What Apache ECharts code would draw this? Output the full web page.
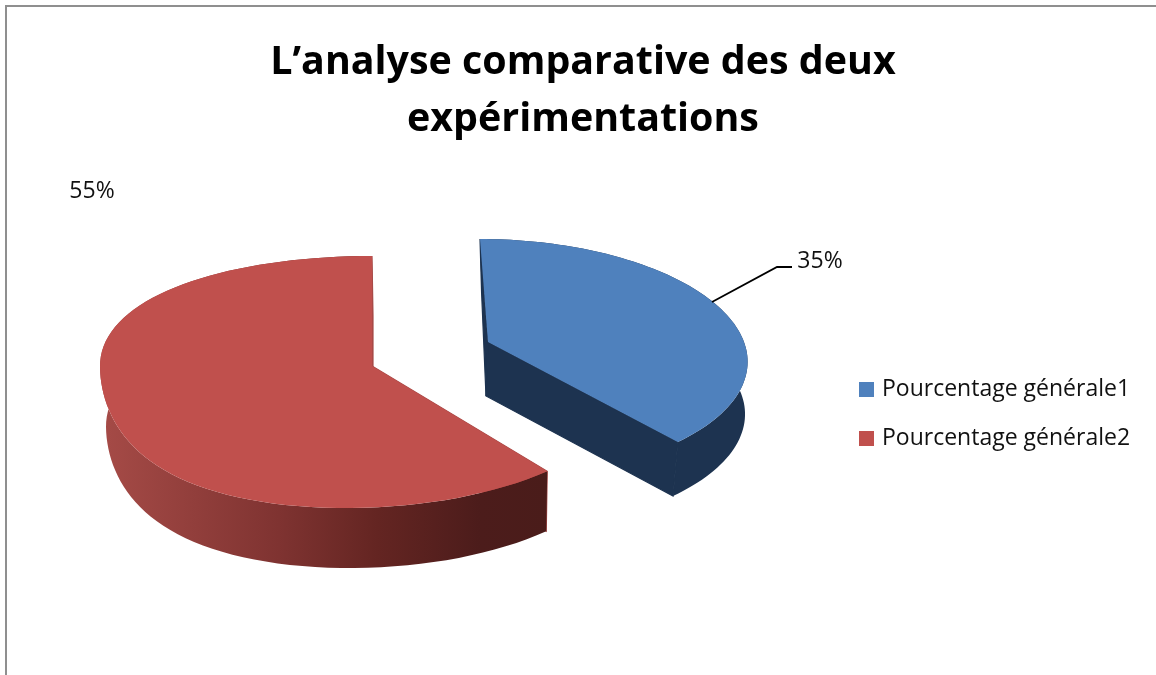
<!DOCTYPE html>
<html>
<head>
<meta charset="utf-8">
<style>
  html, body { margin: 0; background: #fff; }
  #chart { width: 1156px; height: 675px; }
</style>
<script src="https://cdn.jsdelivr.net/npm/echarts@6/dist/echarts.min.js"></script>
</head>
<body>
<div id="chart"></div>
<script>
const titleText = 'L’analyse comparative des deux\nexpérimentations';
const seriesNames = ['Pourcentage générale1', 'Pourcentage générale2'];
const seriesValues = [35, 55];

const fontFamily = '"Open Sans", Lato, sans-serif';
const total = seriesValues.reduce((a, b) => a + b, 0);

// ellipse + fake perspective of each exploded slice
// v runs from -1 (back of the pie) to 1 (front)
const sliceLayout = [
  {
    cx: 488, cy: 342, rx: 256, ry: 117, ky: 0.136,
    scaleX: v => 1 / (1 - 0.136 * v),
    shearX: v => 8 * v,
    lowerShear: 0.55,
    depth: 54, dx: -2, inset: 0,
    top: '#4f81bd', inner: '#1d3350',
    wall: '#1d3350',
    labelX: 820, labelY: 261,
    leader: [[712, 302], [777, 267], [792, 267]]
  },
  {
    cx: 372, cy: 366, rx: 272, ry: 124, ky: 0.127,
    scaleX: v => 1 / (1 - 0.14 * Math.max(v, 0) ** 2),
    shearX: v => -26 * Math.max(v, 0) ** 2,
    lowerShear: 0.9,
    depth: 60, dx: 1, inset: 5,
    top: '#c0504d', inner: '#a84a47',
    wall: {
      type: 'linear', x: 100, y: 0, x2: 547, y2: 0, global: true,
      colorStops: [
        { offset: 0, color: '#a64b47' },
        { offset: 0.4, color: '#7f3331' },
        { offset: 0.62, color: '#642522' },
        { offset: 0.85, color: '#4c1c1b' },
        { offset: 1, color: '#4a1c1a' }
      ]
    },
    labelX: 92, labelY: 191
  }
];

function project(g, deg, lower) {
  const t = deg * Math.PI / 180;
  const u = Math.sin(t);
  const v = -Math.cos(t);
  const rx = lower ? g.rx - g.inset : g.rx;
  const shear = g.shearX(v) * (lower ? g.lowerShear : 1);
  return [
    g.cx + (lower ? g.dx : 0) + rx * u * g.scaleX(v) + shear,
    g.cy + (lower ? g.depth : 0) + g.ry * v / (1 - g.ky * v)
  ];
}

function arc(g, from, to, lower) {
  const pts = [];
  for (let i = 0; i <= 90; i++) {
    pts.push(project(g, from + (to - from) * i / 90, lower));
  }
  return pts;
}

function sliceStart(index) {
  let sum = 0;
  for (let i = 0; i < index; i++) sum += seriesValues[i];
  return sum / total * 360;
}

function renderSlice(params, api) {
  const g = sliceLayout[params.seriesIndex];
  const value = api.value(0);
  const from = sliceStart(params.seriesIndex);
  const to = from + value / total * 360;
  const apexTop = [g.cx, g.cy];
  const apexLow = [g.cx + g.dx, g.cy + g.depth];
  const topArc = arc(g, from, to, false);
  const lowArc = arc(g, from, to, true);
  const children = [];

  const radialWall = (a, b) => ({
    type: 'polygon',
    shape: { points: [apexTop, a, b, apexLow] },
    style: { fill: g.inner, stroke: g.inner, lineWidth: 1.2 }
  });
  children.push(radialWall(topArc[0], lowArc[0]));
  children.push({
    type: 'polygon',
    shape: { points: topArc.concat(lowArc.slice().reverse()) },
    style: { fill: g.wall }
  });
  children.push(radialWall(topArc[90], lowArc[90]));
  children.push({
    type: 'polygon',
    shape: { points: [apexTop].concat(topArc) },
    style: { fill: g.top }
  });
  if (g.leader) {
    children.push({
      type: 'polyline',
      shape: { points: g.leader },
      style: { stroke: '#000', lineWidth: 1.8, fill: null }
    });
  }
  children.push({
    type: 'text',
    style: {
      text: value + '%',
      x: g.labelX,
      y: g.labelY,
      fill: '#111',
      font: '23px ' + fontFamily,
      textAlign: 'center',
      textVerticalAlign: 'middle'
    }
  });
  return { type: 'group', children: children };
}

const chart = echarts.init(document.getElementById('chart'), null, { renderer: 'canvas' });
chart.setOption({
  animation: false,
  backgroundColor: '#fff',
  title: {
    text: titleText,
    left: 583,
    top: 34,
    padding: 0,
    textAlign: 'center',
    textStyle: {
      fontFamily: fontFamily,
      fontWeight: 'bold',
      fontSize: 39.4,
      lineHeight: 57,
      color: '#000'
    }
  },
  legend: {
    orient: 'vertical',
    left: 859,
    top: 378,
    padding: 0,
    icon: 'rect',
    itemWidth: 15,
    itemHeight: 15,
    itemGap: 26,
    data: seriesNames,
    textStyle: { fontFamily: fontFamily, fontSize: 23, color: '#111', padding: [0, 0, 0, 3] }
  },
  graphic: [{
    type: 'rect',
    silent: true,
    shape: { x: 6, y: 6, width: 1200, height: 720 },
    style: { fill: null, stroke: '#8f8f8f', lineWidth: 2 }
  }],
  series: seriesNames.map((name, i) => ({
    type: 'custom',
    name: name,
    coordinateSystem: 'none',
    renderItem: renderSlice,
    itemStyle: { color: sliceLayout[i].top },
    data: [[seriesValues[i]]]
  }))
});
</script>
</body>
</html>
